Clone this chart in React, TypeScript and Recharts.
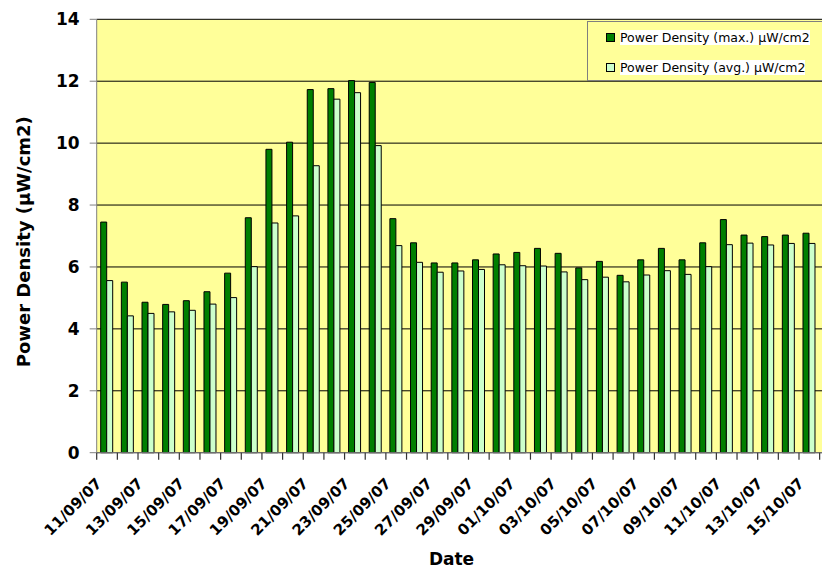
import { BarChart, Bar, XAxis, YAxis, CartesianGrid, Legend, Label } from 'recharts';

const dates = [
  '11/09/07', '12/09/07', '13/09/07', '14/09/07', '15/09/07', '16/09/07',
  '17/09/07', '18/09/07', '19/09/07', '20/09/07', '21/09/07', '22/09/07',
  '23/09/07', '24/09/07', '25/09/07', '26/09/07', '27/09/07', '28/09/07',
  '29/09/07', '30/09/07', '01/10/07', '02/10/07', '03/10/07', '04/10/07',
  '05/10/07', '06/10/07', '07/10/07', '08/10/07', '09/10/07', '10/10/07',
  '11/10/07', '12/10/07', '13/10/07', '14/10/07', '15/10/07', '16/10/07',
];

const maxDensity = [
  7.45, 5.51, 4.86, 4.79, 4.91, 5.2, 5.8, 7.59, 9.8, 10.03, 11.73, 11.76,
  12.02, 11.96, 7.56, 6.78, 6.13, 6.13, 6.23, 6.42, 6.47, 6.6, 6.44, 5.97,
  6.18, 5.73, 6.23, 6.6, 6.23, 6.78, 7.53, 7.03, 6.98, 7.03, 7.09, 7.7,
];

const avgDensity = [
  5.56, 4.42, 4.5, 4.55, 4.6, 4.8, 5.01, 6.01, 7.42, 7.65, 9.27, 11.42,
  11.63, 9.92, 6.69, 6.15, 5.83, 5.87, 5.92, 6.07, 6.04, 6.03, 5.84, 5.59,
  5.67, 5.52, 5.74, 5.88, 5.76, 6.01, 6.72, 6.77, 6.71, 6.76, 6.76, 6.9,
];

const yTicks = [0, 2, 4, 6, 8, 10, 12, 14];

const MAX_NAME = 'Power Density (max.) µW/cm2';
const AVG_NAME = 'Power Density (avg.) µW/cm2';
const legendOrder = [MAX_NAME, AVG_NAME];

const data = dates.map((date, i) => ({
  date,
  max: maxDensity[i],
  avg: avgDensity[i],
}));

const FONT = 'DejaVu Sans';

// Excel style: tick marks sit between categories, label on every 2nd day
function DateTick({ x, y, payload, index, width, visibleTicksCount }: any) {
  const half = Number.isFinite(payload.offset) && payload.offset > 0
    ? payload.offset
    : width / (visibleTicksCount || dates.length) / 2;
  const tx = x - 12;
  const ty = y + 24;
  return (
    <g>
      <path
        d={`M${x - half},${y}v7${index === dates.length - 1 ? `M${x + half},${y}v7` : ''}`}
        stroke="#333"
        strokeWidth={1.2}
        fill="none"
      />
      {index % 2 === 0 && (
        <text
          x={tx}
          y={ty}
          dy="0.72em"
          textAnchor="end"
          transform={`rotate(-45 ${tx} ${ty})`}
          fill="#000"
          stroke="none"
          fontFamily={FONT}
          fontWeight="bold"
          fontSize={15}
        >
          {payload.value}
        </text>
      )}
    </g>
  );
}

function LegendBox({ payload }: any) {
  const items = [...(payload ?? [])].sort(
    (a: any, b: any) => legendOrder.indexOf(a.value) - legendOrder.indexOf(b.value)
  );
  return (
    <div
      style={{
        position: 'relative',
        width: 270,
        height: 58,
        background: '#FFFF99',
        border: '1px solid #7f7f7f',
        borderRight: 'none',
        fontFamily: FONT,
        fontSize: 12.5,
      }}
    >
      {items.map((p: any, i: number) => (
        <div
          key={p.value}
          style={{
            position: 'absolute',
            left: 18,
            top: 8 + i * 30.4,
            height: 15,
            display: 'flex',
            alignItems: 'center',
          }}
        >
          <span
            style={{
              display: 'inline-block',
              boxSizing: 'border-box',
              width: 9,
              height: 9,
              background: p.color,
              border: '1px solid #000',
              marginRight: 5,
            }}
          />
          <span style={{ background: '#fff', color: '#000', lineHeight: '15px', whiteSpace: 'nowrap' }}>
            {p.value}
          </span>
        </div>
      ))}
    </div>
  );
}

export default function App() {
  return (
    <div style={{ width: 822, height: 561, overflow: 'hidden', position: 'relative' }}>
      <style>{'html { overflow: hidden; }'}</style>
      <BarChart
        width={822}
        height={561}
        data={data}
        margin={{ top: 11.3, right: -10.3, left: 0, bottom: 115.3 }}
        barGap={0}
        barCategoryGap={4}
      >
        <CartesianGrid vertical={false} stroke="#000" fill="#FFFF99" fillOpacity={1} />
        <XAxis
          dataKey="date"
          interval={0}
          tickLine={false}
          tickSize={0}
          tickMargin={0}
          axisLine={{ stroke: '#808080' }}
          height={1}
          tick={<DateTick />}
        >
          <Label
            content={(props: any) => {
              const vb = props.viewBox;
              return (
                <text
                  x={vb.x + vb.width / 2 - 17}
                  y={vb.y + 112}
                  textAnchor="middle"
                  fill="#000"
                  fontFamily={FONT}
                  fontWeight="bold"
                  fontSize={17}
                >
                  Date
                </text>
              );
            }}
          />
        </XAxis>
        <YAxis
          width={88.7}
          domain={[0, 14]}
          ticks={yTicks}
          interval={0}
          axisLine={{ stroke: '#808080' }}
          tickLine={{ stroke: '#808080' }}
          tickSize={7}
          tickMargin={10}
          tick={{ fill: '#000', fontFamily: FONT, fontWeight: 'bold', fontSize: 17 }}
        >
          <Label
            content={(props: any) => {
              const vb = props.viewBox;
              const cx = 15.5;
              const cy = vb.y + vb.height / 2 + 5.7;
              return (
                <text
                  x={cx}
                  y={cy}
                  textAnchor="middle"
                  dominantBaseline="central"
                  transform={`rotate(-90 ${cx} ${cy})`}
                  fill="#000"
                  fontFamily={FONT}
                  fontWeight="bold"
                  fontSize={18}
                >
                  Power Density (µW/cm2)
                </text>
              );
            }}
          />
        </YAxis>
        <Legend
          layout="vertical"
          align="center"
          verticalAlign="middle"
          content={<LegendBox />}
          wrapperStyle={{ left: 579, top: 13, width: 272, height: 60 }}
        />
        <Bar dataKey="max" name={MAX_NAME} fill="#007F00" stroke="#000" strokeWidth={1} isAnimationActive={false} />
        <Bar dataKey="avg" name={AVG_NAME} fill="#CCFFCC" stroke="#000" strokeWidth={1} isAnimationActive={false} />
      </BarChart>
    </div>
  );
}
